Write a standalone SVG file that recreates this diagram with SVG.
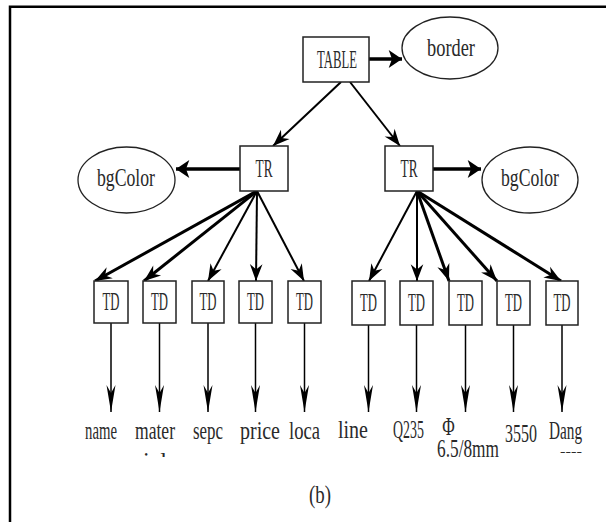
<svg xmlns="http://www.w3.org/2000/svg" width="606" height="522" viewBox="0 0 606 522">
<style>
.box{fill:#fff;stroke:#222;stroke-width:1.5}
.ell{fill:#fff;stroke:#222;stroke-width:1.3}
.t{font-family:"Liberation Serif","DejaVu Serif",serif;fill:#2a2a2a;text-anchor:middle;font-size:26px}
.c{fill:none;stroke:#000}
</style>
<defs>
<marker id="hb" markerUnits="userSpaceOnUse" markerWidth="20" markerHeight="20" viewBox="-14 -9 16 18" refX="0" refY="0" orient="auto"><path d="M0,0 L-12,-8 L-9,0 L-12,8 Z" fill="#000"/></marker>
<marker id="hm" markerUnits="userSpaceOnUse" markerWidth="20" markerHeight="20" viewBox="-17 -7 19 14" refX="0" refY="0" orient="auto"><path d="M0,0 L-16,-6 L-11,0 L-16,6 Z" fill="#000"/></marker>
<marker id="hd" markerUnits="userSpaceOnUse" markerWidth="30" markerHeight="12" viewBox="-28 -5 30 10" refX="0" refY="0" orient="auto"><path d="M0,0 L-27,-4.5 L-19,0 L-27,4.5 Z" fill="#000"/></marker>
<clipPath id="c1" clipPathUnits="userSpaceOnUse"><rect x="120" y="440" width="60" height="17"/></clipPath>
</defs>
<rect width="606" height="522" fill="#fff"/>
<path d="M10,522 V6.7 H606" fill="none" stroke="#000" stroke-width="2.5"/>

<g id="connectors">
<line class="c" x1="369" y1="59" x2="402" y2="59" stroke-width="3.5" marker-end="url(#hb)"/>
<line class="c" x1="341" y1="82" x2="273" y2="146" stroke-width="2" marker-end="url(#hm)"/>
<line class="c" x1="350" y1="82" x2="400" y2="146" stroke-width="2" marker-end="url(#hm)"/>
<line class="c" x1="240" y1="169" x2="176" y2="169" stroke-width="3.5" marker-end="url(#hb)"/>
<line class="c" x1="433" y1="169" x2="481" y2="169" stroke-width="3.5" marker-end="url(#hb)"/>
<line class="c" x1="257" y1="191" x2="95" y2="281" stroke-width="3" marker-end="url(#hm)"/>
<line class="c" x1="257" y1="191" x2="144" y2="281" stroke-width="3" marker-end="url(#hm)"/>
<line class="c" x1="257" y1="191" x2="208" y2="281" stroke-width="2" marker-end="url(#hm)"/>
<line class="c" x1="257" y1="191" x2="256" y2="281" stroke-width="2" marker-end="url(#hm)"/>
<line class="c" x1="257" y1="191" x2="304" y2="281" stroke-width="2" marker-end="url(#hm)"/>
<line class="c" x1="417" y1="191" x2="369" y2="281" stroke-width="2" marker-end="url(#hm)"/>
<line class="c" x1="417" y1="191" x2="417" y2="281" stroke-width="2" marker-end="url(#hm)"/>
<line class="c" x1="417" y1="191" x2="449" y2="281" stroke-width="3" marker-end="url(#hm)"/>
<line class="c" x1="417" y1="191" x2="497" y2="281" stroke-width="3" marker-end="url(#hm)"/>
<line class="c" x1="417" y1="191" x2="561" y2="281" stroke-width="3" marker-end="url(#hm)"/>
<line class="c" x1="111" y1="323" x2="111" y2="412" stroke-width="1.5" marker-end="url(#hd)"/>
<line class="c" x1="159.5" y1="323" x2="159.5" y2="412" stroke-width="1.5" marker-end="url(#hd)"/>
<line class="c" x1="208" y1="323" x2="208" y2="412" stroke-width="1.5" marker-end="url(#hd)"/>
<line class="c" x1="255.5" y1="323" x2="255.5" y2="412" stroke-width="1.5" marker-end="url(#hd)"/>
<line class="c" x1="304.5" y1="323" x2="304.5" y2="412" stroke-width="1.5" marker-end="url(#hd)"/>
<line class="c" x1="368.5" y1="325" x2="368.5" y2="412" stroke-width="1.5" marker-end="url(#hd)"/>
<line class="c" x1="416.5" y1="325" x2="416.5" y2="412" stroke-width="1.5" marker-end="url(#hd)"/>
<line class="c" x1="465.5" y1="325" x2="465.5" y2="412" stroke-width="1.5" marker-end="url(#hd)"/>
<line class="c" x1="513.5" y1="325" x2="513.5" y2="412" stroke-width="1.5" marker-end="url(#hd)"/>
<line class="c" x1="562" y1="325" x2="562" y2="412" stroke-width="1.5" marker-end="url(#hd)"/>
</g>

<g id="table"><rect class="box" x="303" y="37" width="66" height="45"/><text class="t" transform="translate(337,68) scale(0.489,1)">TABLE</text></g>
<g id="border"><ellipse class="ell" cx="450" cy="48" rx="48" ry="31"/><text class="t" transform="translate(451,56) scale(0.707,1)">border</text></g>
<g id="tr1"><rect class="box" x="240" y="146" width="48" height="45"/><text class="t" transform="translate(264,177) scale(0.512,1)">TR</text></g>
<g id="tr2"><rect class="box" x="385" y="146" width="48" height="45"/><text class="t" transform="translate(409,177) scale(0.512,1)">TR</text></g>
<g id="bg1"><ellipse class="ell" cx="126.5" cy="180" rx="48.5" ry="33"/><text class="t" transform="translate(126,186) scale(0.681,1)">bgColor</text></g>
<g id="bg2"><ellipse class="ell" cx="530" cy="180" rx="48" ry="33"/><text class="t" transform="translate(530,186) scale(0.681,1)">bgColor</text></g>

<g id="td1"><rect class="box" x="94" y="281" width="34" height="42"/><text class="t" transform="translate(111,310) scale(0.49,1)">TD</text></g>
<g id="td2"><rect class="box" x="143" y="281" width="33" height="42"/><text class="t" transform="translate(159.5,310) scale(0.49,1)">TD</text></g>
<g id="td3"><rect class="box" x="192" y="281" width="32" height="42"/><text class="t" transform="translate(208,310) scale(0.49,1)">TD</text></g>
<g id="td4"><rect class="box" x="239" y="281" width="33" height="42"/><text class="t" transform="translate(255.5,310) scale(0.49,1)">TD</text></g>
<g id="td5"><rect class="box" x="288" y="281" width="33" height="42"/><text class="t" transform="translate(304.5,310) scale(0.49,1)">TD</text></g>
<g id="td6"><rect class="box" x="352" y="281" width="33" height="44"/><text class="t" transform="translate(368.5,311) scale(0.49,1)">TD</text></g>
<g id="td7"><rect class="box" x="400" y="281" width="33" height="44"/><text class="t" transform="translate(416.5,311) scale(0.49,1)">TD</text></g>
<g id="td8"><rect class="box" x="449" y="281" width="33" height="44"/><text class="t" transform="translate(465.5,311) scale(0.49,1)">TD</text></g>
<g id="td9"><rect class="box" x="497" y="281" width="33" height="44"/><text class="t" transform="translate(513.5,311) scale(0.49,1)">TD</text></g>
<g id="td10"><rect class="box" x="546" y="281" width="32" height="44"/><text class="t" transform="translate(562,311) scale(0.49,1)">TD</text></g>

<g id="labels">
<text class="t" transform="translate(101,439) scale(0.568,1)">name</text>
<text class="t" transform="translate(155,439) scale(0.676,1)">mater</text>
<g clip-path="url(#c1)"><text class="t" transform="translate(155,470) scale(0.923,1)">ial</text></g>
<text class="t" transform="translate(208,439) scale(0.649,1)">sepc</text>
<text class="t" transform="translate(260,439) scale(0.769,1)">price</text>
<text class="t" transform="translate(304.5,439) scale(0.716,1)">loca</text>
<text class="t" transform="translate(353,438) scale(0.769,1)">line</text>
<text class="t" transform="translate(408.5,438) scale(0.536,1)">Q235</text>
<text class="t" transform="translate(448.5,435) scale(0.656,1)">Φ</text>
<text class="t" transform="translate(468,457) scale(0.665,1)">6.5/8mm</text>
<text class="t" transform="translate(521,442) scale(0.615,1)">3550</text>
<text class="t" transform="translate(565.5,439) scale(0.586,1)">Dang</text>
<text class="t" transform="translate(571,456) scale(1.375,1)" style="font-size:12px">----</text>
<text class="t" transform="translate(320,503) scale(0.726,1)">(b)</text>
</g>
</svg>
